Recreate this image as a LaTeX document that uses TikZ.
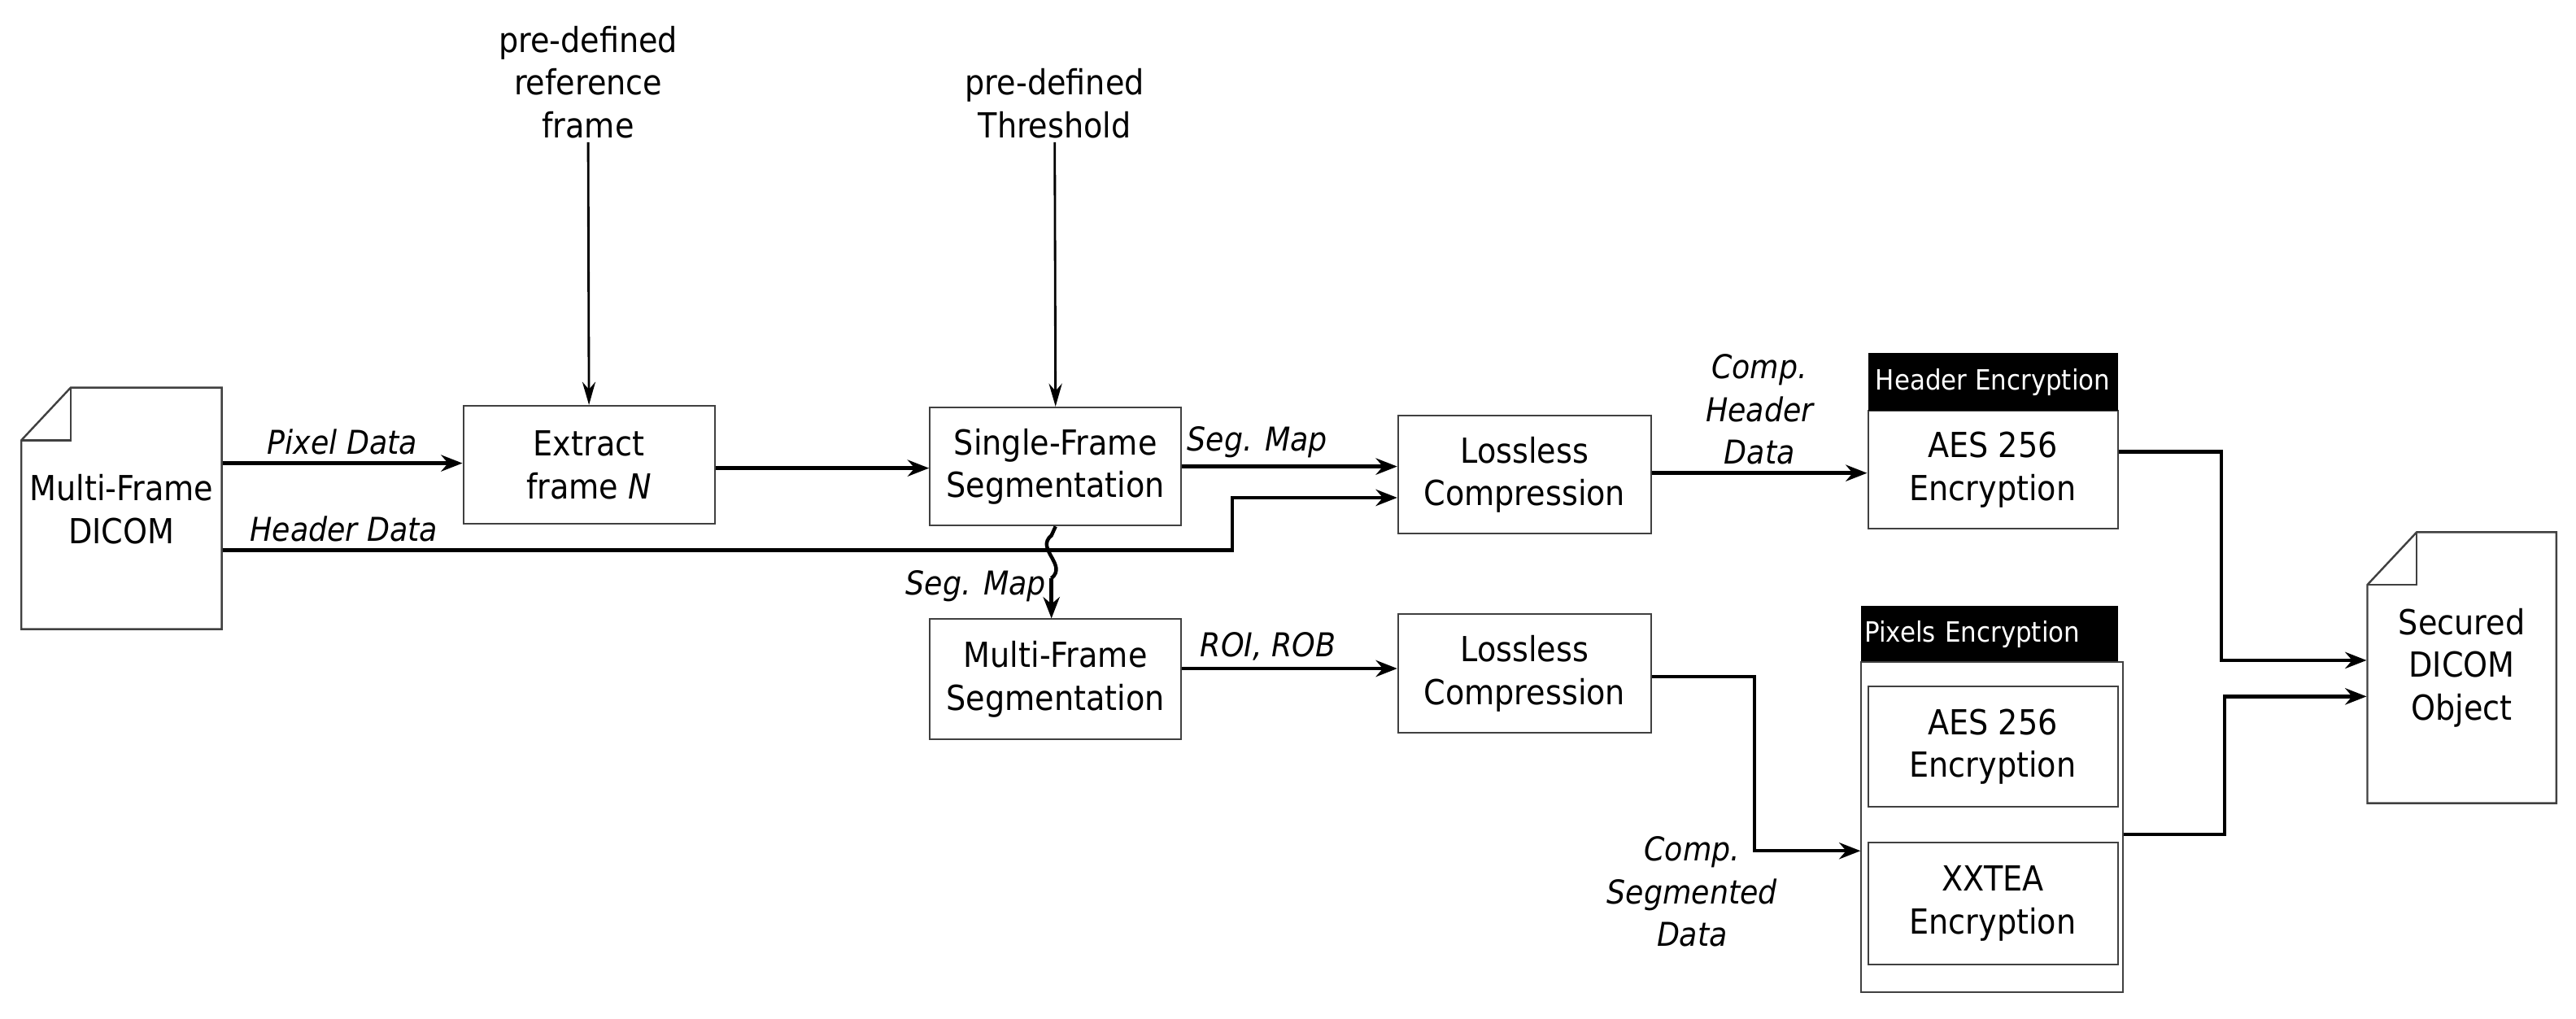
\documentclass[tikz,border=0pt]{standalone}
\usepackage{fontspec}
\setmainfont{DejaVu Sans Condensed}
\usetikzlibrary{arrows.meta,calc}
\begin{document}
\begin{tikzpicture}[x=0.5pt,y=-0.5pt,
  box/.style={draw=black!75,line width=0.5pt,fill=white,align=center,inner sep=0pt,font=\fontsize{10.5}{13}\selectfont},
  hdr/.style={fill=black,text=white,inner sep=0pt,font=\fontsize{8.5}{10}\selectfont},
  lbl/.style={font=\fontsize{10}{13}\selectfont\itshape,align=center,inner sep=1pt},
  arr/.style={line width=1.1pt,-{Stealth[length=6.5pt,width=5pt]}},
  tarr/.style={line width=0.7pt,-{Stealth[length=7pt,width=4pt]}}]
\useasboundingbox (0,0) rectangle (1568,620);
% documents
\draw[line width=0.6pt,draw=black!75,fill=white] (43,236) -- (135,236) -- (135,383) -- (13,383) -- (13,268) -- cycle;
\draw[line width=0.6pt,draw=black!75] (43,236) -- (43,268) -- (13,268);
\node[box,draw=none,fill=none,minimum width=61pt,minimum height=73pt] (doc1) at (74,310) {Multi-Frame\\DICOM};
\draw[line width=0.6pt,draw=black!75,fill=white] (1471,324) -- (1556,324) -- (1556,489) -- (1441,489) -- (1441,356) -- cycle;
\draw[line width=0.6pt,draw=black!75] (1471,324) -- (1471,356) -- (1441,356);
\node[box,draw=none,fill=none,minimum width=57.5pt,minimum height=82.5pt] (doc2) at (1498.5,406.5) {Secured\\DICOM\\Object};
% boxes
\node[box,minimum width=76.5pt,minimum height=36pt] (ext) at (358.5,283) {Extract\\frame \textit{N}};
\node[box,minimum width=76.5pt,minimum height=36pt] (sfs) at (642.5,284) {Single-Frame\\Segmentation};
\node[box,minimum width=77pt,minimum height=36pt] (ll1) at (928,289) {Lossless\\Compression};
\node[box,minimum width=76pt,minimum height=36pt] (aes1) at (1213,286) {AES 256\\Encryption};
\node[hdr,minimum width=76pt,minimum height=17.5pt] (h1) at (1213,232.5) {Header Encryption};
\node[box,minimum width=76.5pt,minimum height=36.5pt] (mfs) at (642.5,413.5) {Multi-Frame\\Segmentation};
\node[box,minimum width=77pt,minimum height=36pt] (ll2) at (928,410) {Lossless\\Compression};
\node[hdr,minimum width=78pt,minimum height=17pt,text width=76pt,align=left] (h2) at (1211,386) {Pixels Encryption};
\node[box,minimum width=79.5pt,minimum height=100.5pt] (pix) at (1212.5,503.5) {};
\node[box,minimum width=76pt,minimum height=36.5pt] (aes2) at (1213,454.5) {AES 256\\Encryption};
\node[box,minimum width=76pt,minimum height=37pt] (xx) at (1213,550) {XXTEA\\Encryption};
% top inputs
\node[lbl,font=\fontsize{10.5}{13}\selectfont] (ref) at (358,50) {pre-defined\\reference\\frame};
\node[lbl,font=\fontsize{10.5}{13}\selectfont] (thr) at (642,63) {pre-defined\\Threshold};
\draw[tarr] (ref.south) -- (ext.north);
\draw[tarr] (thr.south) -- (sfs.north);
% arrows
\draw[arr] (doc1.east |- 0,282) -- node[lbl,above=1pt]{Pixel Data} (ext.west |- 0,282);
\draw[arr] (ext.east |- 0,285) -- (sfs.west |- 0,285);
\draw[arr] (sfs.east |- 0,284) -- node[lbl,above=1pt,pos=0.35]{Seg. Map} (ll1.west |- 0,284);
\draw[arr] (doc1.east |- 0,335) -- node[lbl,above=1pt,pos=0.12]{Header Data} (750,335) -- (750,303) -- (ll1.west |- 0,303);
\draw[line width=1.1pt] (sfs.south) -- (640,326) .. controls (630,334) and (650,344) .. (640,352);
\draw[arr] (640,352) -- (mfs.north -| 640,0);
\node[lbl] at (594,357) {Seg. Map};
\draw[arr] (ll1.east |- 0,288) -- node[lbl,above=1pt,align=center]{Comp.\\Header\\Data} (aes1.west |- 0,288);
\draw[arr] (mfs.east |- 0,407) -- node[lbl,above=1pt,pos=0.4]{ROI, ROB} (ll2.west |- 0,407);
\draw[arr] (ll2.east |- 0,412) -- (1068,412) -- (1068,518) -- (pix.west |- 0,518);
\node[lbl,align=center] at (1030,543) {Comp.\\Segmented\\Data};
\draw[arr] (aes1.east |- 0,275) -- (1352,275) -- (1352,402) -- (doc2.west |- 0,402);
\draw[arr] (pix.east |- 0,508) -- (1354,508) -- (1354,424) -- (doc2.west |- 0,424);
\end{tikzpicture}
\end{document}
